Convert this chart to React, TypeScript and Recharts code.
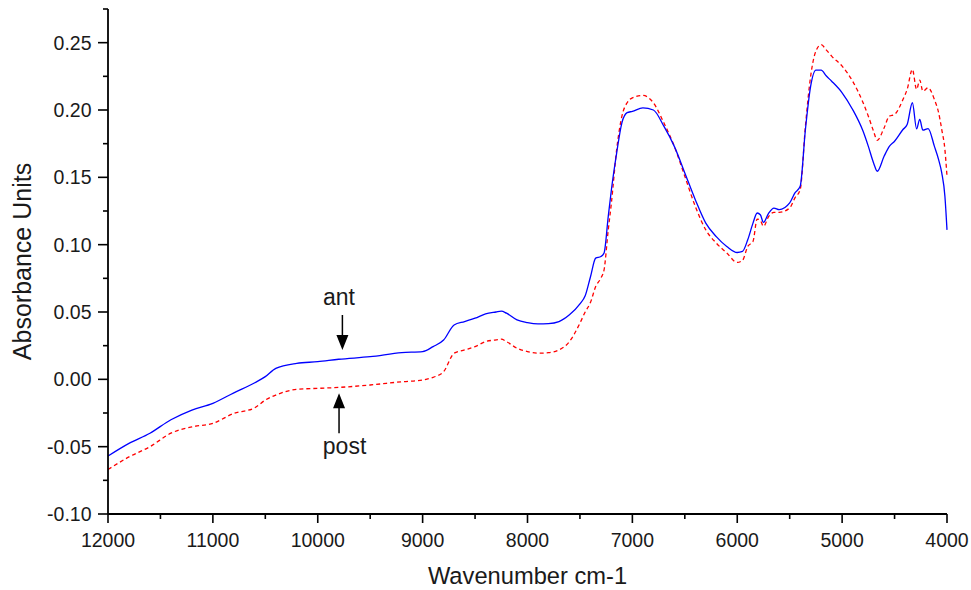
import React from 'react';
import { LineChart, Line, XAxis, YAxis, ReferenceDot } from 'recharts';

// wavenumber (cm-1)
const wavenumbers = [
  12000, 11800, 11600, 11400, 11200, 11000, 10800, 10600, 10500, 10400,
  10200, 10000, 9800, 9500, 9200, 9000, 8900, 8800, 8700, 8600,
  8500, 8400, 8300, 8250, 8200, 8100, 8000, 7900, 7800, 7700,
  7600, 7500, 7450, 7400, 7350, 7300, 7270, 7230, 7200, 7150,
  7100, 7050, 7000, 6900, 6800, 6700, 6600, 6500, 6400, 6300,
  6200, 6100, 6000, 5950, 5900, 5850, 5810, 5780, 5750, 5700,
  5650, 5600, 5500, 5450, 5400, 5350, 5300, 5250, 5200, 5150,
  5100, 5000, 4900, 4800, 4750, 4700, 4665, 4600, 4550, 4500,
  4420, 4380, 4330, 4290, 4260, 4230, 4180, 4120, 4080, 4050,
  4020, 4000,
];

const antAbsorbance = [
  -0.057, -0.0476, -0.04, -0.03, -0.0228, -0.0178, -0.01, -0.0025, 0.002, 0.0082,
  0.0119, 0.0131, 0.0149, 0.0168, 0.0198, 0.0206, 0.0243, 0.0292, 0.0404, 0.0429,
  0.0454, 0.0486, 0.05, 0.0506, 0.0491, 0.0441, 0.0421, 0.0412, 0.0414, 0.0429,
  0.0479, 0.056, 0.062, 0.076, 0.09, 0.0912, 0.0938, 0.121, 0.1408, 0.168,
  0.1905, 0.198, 0.199, 0.2016, 0.2, 0.188, 0.173, 0.1533, 0.1334, 0.116,
  0.106, 0.0987, 0.0942, 0.095, 0.1036, 0.116, 0.1235, 0.1222, 0.1165, 0.1235,
  0.1272, 0.126, 0.131, 0.1384, 0.1433, 0.1855, 0.2177, 0.2296, 0.2296, 0.2252,
  0.2214, 0.2128, 0.2004, 0.1842, 0.173, 0.1607, 0.1545, 0.1656, 0.173, 0.1768,
  0.1855, 0.1892, 0.2054, 0.186, 0.193, 0.185, 0.1862, 0.173, 0.1632, 0.1533,
  0.136, 0.111,
];

const postAbsorbance = [
  -0.067, -0.0576, -0.05, -0.04, -0.0353, -0.0327, -0.0253, -0.0211, -0.0154, -0.0117,
  -0.0074, -0.0067, -0.006, -0.0042, -0.0018, -0.0005, 0.0015, 0.0057, 0.0194, 0.0218,
  0.0243, 0.028, 0.0293, 0.0298, 0.028, 0.0231, 0.0206, 0.0194, 0.0198, 0.0218,
  0.028, 0.0417, 0.05, 0.057, 0.0689, 0.0752, 0.0813, 0.111, 0.131, 0.1706,
  0.1954, 0.2054, 0.209, 0.2108, 0.2054, 0.1905, 0.173, 0.1508, 0.1284, 0.111,
  0.1012, 0.0938, 0.0868, 0.0883, 0.0987, 0.1024, 0.119, 0.118, 0.1136, 0.121,
  0.124, 0.124, 0.1272, 0.1347, 0.1408, 0.188, 0.2252, 0.2438, 0.2485, 0.2445,
  0.24, 0.2326, 0.2214, 0.2054, 0.1954, 0.1842, 0.1775, 0.1867, 0.1954, 0.1967,
  0.2078, 0.2153, 0.2301, 0.2153, 0.2222, 0.214, 0.2165, 0.2078, 0.198, 0.1855,
  0.1706, 0.1508,
];

const xTicks = [
  12000, 11500, 11000, 10500, 10000, 9500, 9000, 8500, 8000,
  7500, 7000, 6500, 6000, 5500, 5000, 4500, 4000,
];
const yTicks = [
  -0.1, -0.075, -0.05, -0.025, 0, 0.025, 0.05, 0.075, 0.1,
  0.125, 0.15, 0.175, 0.2, 0.225, 0.25, 0.275,
];

// annotation arrows: [wavenumber, absorbance at arrow tip]
const antArrow = [9765, 0.0218];
const postArrow = [9797, -0.0104];

const data = wavenumbers.map((wn, i) => ({
  wn,
  ant: antAbsorbance[i],
  post: postAbsorbance[i],
}));

const FONT = '"Liberation Sans", Arial, Helvetica, sans-serif';
const INK = '#1a1a1a';

function XTick(props: any) {
  const { x, y, payload } = props;
  const major = payload.value % 1000 === 0;
  return (
    <g>
      <line x1={x} y1={y} x2={x} y2={y + (major ? 9 : 5)} stroke="#000" strokeWidth={1.6} />
      {major && (
        <text x={x} y={y + 33} textAnchor="middle" fontSize={19.5} fontFamily={FONT} fill={INK}>
          {payload.value}
        </text>
      )}
    </g>
  );
}

function YTick(props: any) {
  const { x, y, payload } = props;
  const major = Math.round(payload.value * 1000) % 50 === 0;
  return (
    <g>
      <line x1={x - (major ? 10 : 5)} y1={y} x2={x} y2={y} stroke="#000" strokeWidth={1.6} />
      {major && (
        <text x={x - 16.5} y={y} dy="0.36em" textAnchor="end" fontSize={19.5} fontFamily={FONT} fill={INK}>
          {payload.value.toFixed(2)}
        </text>
      )}
    </g>
  );
}

function DownArrow(props: any) {
  const { cx, cy } = props;
  return (
    <g>
      <text x={cx - 3.5} y={cy - 45} textAnchor="middle" fontSize={23} fontFamily={FONT} fill={INK}>ant</text>
      <line x1={cx} y1={cy - 35} x2={cx} y2={cy - 14} stroke="#000" strokeWidth={1.5} />
      <path d={`M${cx - 6},${cy - 15} L${cx + 6},${cy - 15} L${cx},${cy} Z`} fill="#000" />
    </g>
  );
}

function UpArrow(props: any) {
  const { cx, cy } = props;
  return (
    <g>
      <path d={`M${cx - 6},${cy + 15} L${cx + 6},${cy + 15} L${cx},${cy} Z`} fill="#000" />
      <line x1={cx} y1={cy + 14} x2={cx} y2={cy + 40} stroke="#000" strokeWidth={1.5} />
      <text x={cx + 5.5} y={cy + 61} textAnchor="middle" fontSize={23} fontFamily={FONT} fill={INK}>post</text>
    </g>
  );
}

export default function App() {
  return (
    <>
      <style>{'html,body{width:971px;overflow:hidden;} body{width:963px;} #root{width:963px;}'}</style>
      <LineChart
        width={963}
        height={582}
        data={data}
        margin={{ top: 1, right: 24, bottom: 0, left: 0 }}
      >
        <XAxis
          dataKey="wn"
          type="number"
          domain={[4000, 12000]}
          reversed
          ticks={xTicks}
          interval={0}
          height={76}
          tickSize={0}
          tickMargin={0}
          tickLine={false}
          axisLine={{ stroke: '#000', strokeWidth: 1.8 }}
          tick={(p: any) => <XTick {...p} />}
          label={{
            content: (p: any) => {
              const vb = p.viewBox;
              return (
                <text x={vb.x + vb.width / 2} y={vb.y + 70} textAnchor="middle" fontSize={23.7} fontFamily={FONT} fill={INK}>
                  Wavenumber cm-1
                </text>
              );
            },
          }}
        />
        <YAxis
          type="number"
          domain={[-0.1, 0.275]}
          ticks={yTicks}
          interval={0}
          width={100}
          tickSize={0}
          tickMargin={0}
          tickLine={false}
          allowDataOverflow
          axisLine={{ stroke: '#000', strokeWidth: 1.8 }}
          tick={(p: any) => <YTick {...p} />}
          label={{
            content: (p: any) => {
              const vb = p.viewBox;
              const lx = vb.x + 14;
              const ly = vb.y + vb.height / 2;
              return (
                <text
                  x={lx}
                  y={ly}
                  transform={`rotate(-90 ${lx} ${ly})`}
                  textAnchor="middle"
                  dy="0.36em"
                  fontSize={25}
                  fontFamily={FONT}
                  fill={INK}
                >
                  Absorbance Units
                </text>
              );
            },
          }}
        />
        <Line
          type="monotone"
          dataKey="post"
          stroke="#ff0000"
          strokeWidth={1.3}
          strokeDasharray="4 3"
          dot={false}
          isAnimationActive={false}
        />
        <Line
          type="monotone"
          dataKey="ant"
          stroke="#0000ff"
          strokeWidth={1.3}
          dot={false}
          isAnimationActive={false}
        />
        <ReferenceDot x={antArrow[0]} y={antArrow[1]} r={0} shape={(p: any) => <DownArrow {...p} />} />
        <ReferenceDot x={postArrow[0]} y={postArrow[1]} r={0} shape={(p: any) => <UpArrow {...p} />} />
      </LineChart>
    </>
  );
}
